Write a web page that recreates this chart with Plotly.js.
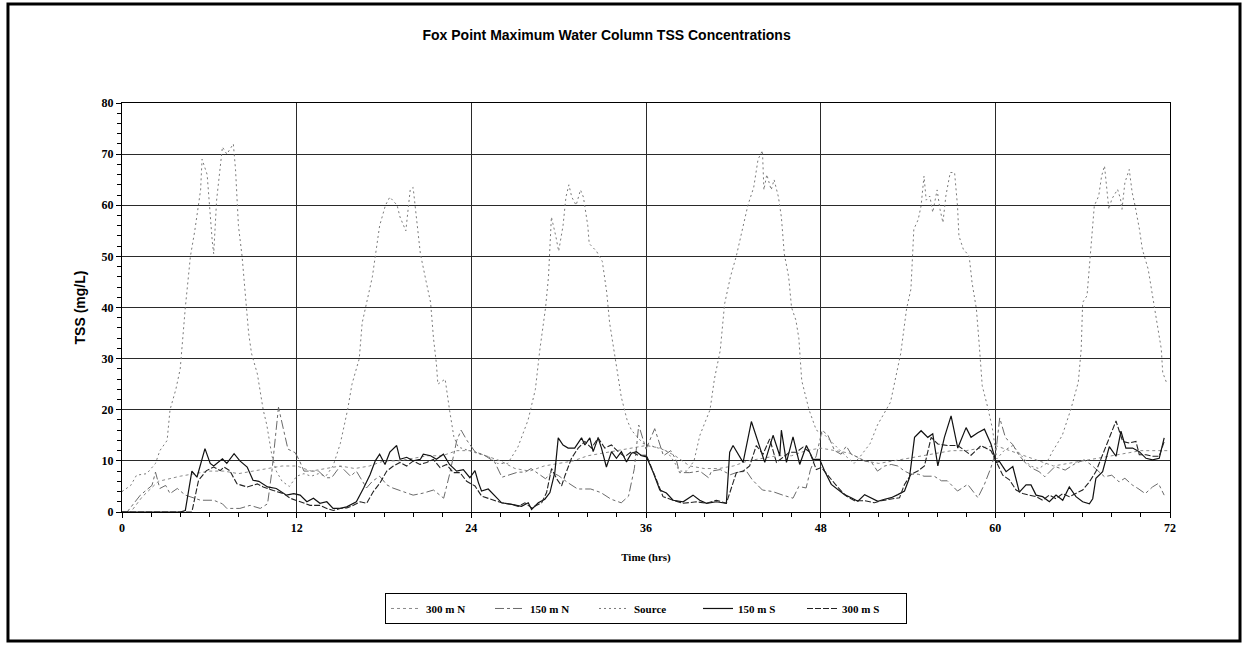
<!DOCTYPE html>
<html>
<head>
<meta charset="utf-8">
<script src="https://cdn.plot.ly/plotly-3.0.1.min.js"></script>
<style>html,body{margin:0;padding:0;background:#fff;}#chart{width:1243px;height:648px;}</style>
</head>
<body>
<div id="chart"></div>
<script>
// ---- Data (hours, mg/L) ----
const seriesNames = ["300 m N", "150 m N", "Source", "150 m S", "300 m S"];
const xTickVals = [0, 12, 24, 36, 48, 60, 72];
const yTickVals = [0, 10, 20, 30, 40, 50, 60, 70, 80];

const tSource = [0,0.6,1.0,1.7,2.3,2.6,3.1,3.3,3.7,4.0,4.35,4.7,5.0,5.4,5.5,5.85,6.2,6.3,6.5,6.75,6.9,7.2,7.65,7.8,7.9,8.0,8.25,8.5,8.7,8.9,9.3,9.7,9.95,10.3,10.6,11.0,11.5,12.0,12.5,13.0,13.5,14.0,14.5,15.0,15.5,15.8,16.3,16.5,16.8,17.2,17.5,17.7,18.1,18.4,18.9,19.1,19.5,19.8,20.0,20.3,20.5,20.9,21.2,21.4,21.6,21.7,22.2,22.5,22.8,23.1,23.8,24.5,25.2,25.8,26.5,27.2,27.9,28.4,28.7,29.1,29.3,29.4,29.5,29.8,30.0,30.3,30.5,30.7,30.9,31.2,31.5,31.7,32.0,32.1,32.6,33.0,33.3,33.5,33.8,34.0,34.3,34.7,35.0,35.4,35.8,36.3,36.8,37.4,37.9,38.3,38.8,39.3,39.7,40.4,40.7,41.1,41.4,41.8,42.2,42.6,43.0,43.4,43.7,44.0,44.1,44.3,44.6,44.8,45.1,45.3,45.5,45.8,46.0,46.3,46.5,46.7,47.0,47.2,47.7,48.3,49.0,49.7,50.3,50.7,51.4,51.9,52.8,53.2,53.5,53.9,54.2,54.3,54.4,54.7,54.9,55.1,55.25,55.5,55.7,56.0,56.2,56.4,56.6,56.9,57.2,57.4,57.5,57.8,58.2,58.4,58.7,58.9,59.1,59.5,59.8,60.1,60.6,61.2,61.8,62.4,63.0,63.5,63.9,64.6,65.2,65.7,65.9,66.0,66.3,66.5,66.6,66.8,67.1,67.3,67.5,67.8,68.0,68.4,68.6,68.7,68.9,69.2,69.4,69.6,69.9,70.1,70.5,70.8,71.1,71.4,71.5,71.8];
const vSource = [4,5.2,7.2,7.5,9.5,12,14,20,24,28,40,50,55,63,69,66,53,50.5,61,67,71.4,70,72,67,61,56,50,42,35,31,27,20,17,11,8,6,5,7,7.5,7,7.5,7,9,13.4,20,25,30,37,41,46,52,56,60,61.6,60,57.7,55,63,63.5,56,50.5,45,41,34,29,25,26,20,14.7,12.7,12,11.4,10.8,9.5,9.5,12.7,18,24,31.6,40,46,53,57.7,54,51,56,61.6,64,61.6,60,63,61.6,56,52.5,51,49,43,37,32,28,22.5,18,16,14.7,13.4,13,12.5,12,10,8,8,10,15,20,26,31.6,40.7,46,50,55,60,63.5,69,70.7,63,66,63,65,61.6,57.7,50.5,46,40,37.5,34,25.7,22.5,20,16,15,13,11,9.5,10.8,13.4,17,21.5,27,31,39.7,43.6,49.4,55.3,57.2,59.9,65.7,61,61.8,58.6,63,59.2,56.6,61.8,66.4,66.4,59.9,54,51.4,50.1,44.9,39.7,32.5,24.7,20.2,16.3,10.4,12,13,11,9,8.5,9.5,11.7,15,20.2,25.4,31.9,41,42.3,48.8,52,59.9,61.8,65.7,67.7,59.2,61.2,63.1,61.2,59.2,64.4,67,62.5,59.9,55.3,51.4,47.5,42.3,37.1,31.9,27.3,25];

const t150S = [0,4.0,4.35,4.8,5.15,5.7,6.06,6.3,6.9,7.2,7.7,8.1,8.6,9.0,9.4,10.0,10.6,11.3,11.8,12.24,12.7,13.15,13.6,14.07,14.5,14.98,15.44,16.1,16.6,17.04,17.4,17.7,18.07,18.4,18.87,19.1,19.56,20.0,20.5,20.7,21.2,21.6,22.08,22.5,22.99,23.45,23.9,24.25,24.48,24.7,25.16,25.62,26.08,26.77,27.45,27.91,28.14,28.6,29.05,29.4,29.74,29.97,30.3,30.65,31.1,31.57,31.8,32.14,32.37,32.71,32.94,33.28,33.63,33.97,34.31,34.66,35.0,35.34,35.7,36.03,36.5,36.95,37.4,37.86,38.55,39.23,39.69,40.15,40.84,41.52,41.75,41.98,42.67,43.24,43.81,44.16,44.73,45.19,45.3,45.65,46.1,46.56,47.02,47.47,47.93,48.27,48.73,49.19,49.64,50.1,50.56,51.02,51.48,51.93,52.39,52.85,53.3,53.76,54.1,54.45,54.9,55.36,55.7,56.05,56.5,56.96,57.42,57.99,58.33,58.79,59.25,59.7,60.05,60.28,60.74,61.2,61.65,62.11,62.45,62.8,63.25,63.71,64.17,64.63,65.08,65.54,66.0,66.46,66.69,66.91,67.37,67.83,68.29,68.63,68.97,69.43,69.89,70.35,70.8,71.26,71.6];
const v150S = [0,0,0.3,8,6.8,12.4,9.5,9,10.4,9.5,11.4,10,8.8,6.2,6,4.9,4.6,3.3,3.6,3.3,2,2.7,1.7,2,0.7,0.7,1,2,4.7,7.3,10,11.3,9.3,11.7,13,10.3,10.7,10,10.3,11.3,11,10.3,11.3,9.3,8,8.3,6.7,8.1,5.8,4.1,4.5,3.1,1.8,1.5,1.1,1.8,0.5,1.8,2.5,3.8,7.8,14.5,13.1,12.5,12.5,14.5,13.1,14.5,11.8,14.5,12.5,8.8,11.8,10.5,11.8,9.8,11.5,11.8,11,10.8,7.7,4.3,3.7,2.3,2,3.3,2.3,1.7,2,1.7,11.7,13,9.7,17.7,13,9.7,15,11,16,9.7,14.7,9.3,13,10.3,10.3,8,5.4,4.4,3.4,2.8,2.1,3.4,2.8,2.1,2.5,2.8,3.4,4.1,6.7,14.6,15.9,14.6,15.3,9,14.6,18.8,12.5,16.5,14.6,15.5,16.2,13.3,9.7,9.9,7.9,8.9,3.9,5.3,5.3,3.3,3,2,3.3,2.3,4.9,3,2,1.6,2.6,6.6,7.9,12.8,10.9,15.8,12.5,12.5,11.8,10.5,10.2,10.5,14.5];

const t300S = [0,4.8,5.26,5.8,6.3,6.75,7.0,7.4,7.9,8.6,9.3,9.7,10.4,11.1,11.55,12.24,12.92,13.61,14.07,14.52,14.98,15.44,15.9,16.36,16.81,17.27,17.73,18.19,18.64,19.1,19.56,20.02,20.47,20.93,21.39,21.85,22.3,22.76,23.22,23.68,24.25,24.71,25.4,26.08,26.77,27.22,27.68,28.14,28.83,29.17,29.51,29.86,30.2,30.43,30.88,31.34,31.8,32.26,32.71,33.17,33.63,34.09,34.54,35.0,35.46,36.03,36.72,37.17,37.86,38.55,39.46,40.15,40.84,41.52,42.21,42.67,43.12,43.58,44.04,44.5,44.96,45.42,45.87,46.33,46.79,47.25,47.7,48.05,48.62,49.19,49.76,50.33,51.02,51.7,52.16,52.85,53.42,53.76,54.22,54.67,55.13,55.59,56.05,56.73,57.42,58.33,59.02,59.7,60.05,60.51,60.97,61.43,61.88,62.34,62.8,63.25,63.71,64.17,64.63,65.08,65.54,66.0,66.46,66.91,67.37,67.83,68.29,68.52,68.75,69.2,69.66,69.89,70.35,70.8,71.26,71.6];
const v300S = [0,0,6.2,8.1,8.8,8.1,8.8,8.1,5.5,4.9,5.5,4.9,4.2,3.6,2.7,2,1.3,1.3,0.7,0.3,0.7,0.8,1.3,2,1.7,4,5.7,8,9,9.7,9,10,9.3,9.7,10.3,8.7,9.3,7.7,7.7,6,5.1,3.1,2.5,1.8,1.5,1.1,1.8,0.8,1.8,3.8,8.5,6.5,5.1,7.1,10.5,12.5,13.8,12.5,14.5,12.5,13.1,11.8,10.8,11.8,11.1,11.1,6.3,3,2.3,1.7,2,1.7,2.3,1.7,7.7,8,9,13,11.3,14.3,9.7,10.7,11.7,11.7,12.7,11.7,8.3,8.7,6.7,4.8,3.1,2.2,2.2,1.8,2.2,2.5,2.8,5.4,7.4,8,9,14.6,13.3,13,13,11.1,13,12,10,7.2,6.3,4.3,3.6,3.3,3,2.3,3.3,2.6,3.6,3,3.6,4.3,5.9,7.9,11.2,14.5,17.8,15.8,13.8,13.5,13.8,11.2,11.2,10.9,10.9,13.8];

const t150N = [0,0.35,1.26,2.06,2.3,2.6,3.0,3.3,3.8,4.35,5.4,6.3,6.9,7.2,8.1,8.8,9.5,10.0,10.3,10.75,11.4,11.9,12.2,12.5,13.0,13.5,14.0,14.4,15.0,15.7,16.1,16.8,17.2,17.7,18.2,18.6,19.3,20.0,20.7,21.4,22.1,22.5,23.0,23.3,23.7,24.25,24.9,25.6,26.1,26.8,27.2,27.7,28.1,28.6,29.1,29.5,30.0,30.6,31.3,32.2,32.9,33.6,34.3,34.8,35.2,35.5,36.0,36.6,37.2,37.7,38.1,38.3,39.0,39.7,40.3,40.5,41.1,41.8,42.2,42.9,43.3,44.0,44.7,45.4,46.1,46.5,47.0,47.3,47.7,48.1,48.5,48.96,49.4,49.76,50.1,50.56,51.0,51.5,51.9,52.4,52.85,53.3,53.76,54.2,54.7,55.1,55.8,56.3,56.7,57.4,58.1,58.8,59.25,59.7,60.05,60.3,60.7,61.2,61.6,62.1,62.5,63.0,63.4,64.1,64.8,65.5,66.1,66.6,67.1,67.5,68.0,68.5,68.9,69.4,69.8,70.3,70.8,71.2,71.6];
const v150N = [0,0,3.3,5.2,7.8,4.6,5.2,3.6,4.6,3.3,2.3,2.3,1.6,0.7,0.7,1.3,0.7,1.6,8,20.5,12.3,11.6,10,8,8,8,6.7,6.7,9,7,8,4.7,6,7,5.3,4.7,4,3.3,3.7,4.3,2.7,7.3,14,16,14,11.8,11.1,9.8,6.8,7.5,7.8,7.8,8.5,7.5,6.5,7.8,7.1,5.8,4.5,4.5,3.8,2.5,1.8,3.1,8.5,17,12.3,16.3,11,12,10,7.7,7.7,8,6.7,8,8.3,7.3,7.7,8,6.3,4.3,4,3.3,2.7,5,4.7,8.3,11,16,15,12,11.3,12.9,11.3,10.7,10,9.7,8,9,9.3,9,8,7.4,7.4,7,7,6.1,6.1,4.1,5.4,2.8,5.4,8.7,12,18.4,14.5,13.2,11.2,9.5,8.6,7.9,6.9,8.9,8.2,9.5,10.2,9.2,7.9,6.9,7.2,5.9,6.6,5.3,4.6,3.6,4.9,5.6,3.3];

const t300N = [0,0.6,1.4,2.5,4,5,6,7,8,9,10,11,12,13,14,15,16,17,18,19,20,21,22,23,24,25,26,27,28,29,30,31,32,33,34,35,36,37,38,39,40,41,42,43,44,45,46,47,48,49,50,51,52,53,54,55,56,57,58,59,60,61,62,63,64,65,66,67,68,69,70,71,72];
const v300N = [0,0,3,6,7,7.5,8,8,7.5,8,8.5,9,9,8,8.5,9,8.5,9,10,10,10.5,11,11,12,12,11,10,8.5,8,9,9.5,10,11,11.5,12,12.5,13,12.5,11,9,8.5,8.5,9,10,10.5,11,11,12,12.5,12,11.5,10,9.5,10,10.5,11,11.5,12,12,12.5,13,12,11,10,9,9.5,10,10.5,11,11.5,12,12,12];

// ---- Chart ----
const serif = "'Liberation Serif', 'Times New Roman', serif";
const sans = "'Liberation Sans', Arial, sans-serif";

const traces = [
  {x: t300N, y: v300N, name: seriesNames[0], mode: "lines",
   line: {color: "#8a8a8a", width: 1, dash: "dot"}},
  {x: t150N, y: v150N, name: seriesNames[1], mode: "lines",
   line: {color: "#6a6a6a", width: 1, dash: "dashdot"}},
  {x: tSource, y: vSource, name: seriesNames[2], mode: "lines",
   line: {color: "#7a7a7a", width: 1, dash: "2px,3px"}},
  {x: t150S, y: v150S, name: seriesNames[3], mode: "lines",
   line: {color: "#111", width: 1.2}},
  {x: t300S, y: v300S, name: seriesNames[4], mode: "lines",
   line: {color: "#222", width: 1.1, dash: "6px,2px"}}
];

const layout = {
  width: 1243, height: 648,
  paper_bgcolor: "#fff", plot_bgcolor: "#fff",
  margin: {l: 122, r: 73, t: 103, b: 136},
  showlegend: true,
  title: {
    text: "Fox Point Maximum Water Column TSS Concentrations",
    font: {family: sans, size: 14, color: "#000", weight: "bold"},
    x: 0.488, xref: "container", xanchor: "center",
    y: 0.946, yref: "container", yanchor: "middle"
  },
  xaxis: {
    range: [0, 72], tickvals: xTickVals, ticktext: xTickVals.map(String),
    showgrid: true, gridcolor: "#2a2a2a", gridwidth: 1,
    zeroline: false, showline: true, mirror: true, linecolor: "#000", linewidth: 1,
    ticks: "outside", ticklen: 5, tickcolor: "#000",
    minor: {dtick: 2, ticks: "outside", ticklen: 4, tickcolor: "#000", showgrid: false},
    tickfont: {family: serif, size: 12, color: "#000", weight: "bold"},
    title: {text: "Time (hrs)", standoff: 18,
            font: {family: serif, size: 11, color: "#000", weight: "bold"}},
    fixedrange: true
  },
  yaxis: {
    range: [0, 80], tickvals: yTickVals, ticktext: yTickVals.map(String),
    showgrid: true, gridcolor: "#2a2a2a", gridwidth: 1,
    zeroline: false, showline: true, mirror: true, linecolor: "#000", linewidth: 1,
    ticks: "outside", ticklen: 5, tickcolor: "#000",
    minor: {dtick: 2, ticks: "outside", ticklen: 4, tickcolor: "#000", showgrid: false},
    tickfont: {family: serif, size: 12, color: "#000", weight: "bold"},
    title: {text: "TSS (mg/L)", standoff: 12,
            font: {family: sans, size: 14, color: "#000", weight: "bold"}},
    fixedrange: true
  },
  legend: {
    orientation: "h", x: 0.5, xanchor: "center", y: -0.198, yanchor: "top",
    bordercolor: "#000", borderwidth: 1, bgcolor: "#fff",
    font: {family: serif, size: 11, color: "#000", weight: "bold"},
    entrywidth: 59, entrywidthmode: "pixels", itemwidth: 30,
    traceorder: "normal"
  },
  shapes: [
    {type: "rect", xref: "paper", yref: "paper",
     x0: -0.1088, x1: 1.0668, y0: -0.3154, y1: 1.242,
     line: {color: "#000", width: 3}, fillcolor: "rgba(0,0,0,0)", layer: "below"}
  ]
};

Plotly.newPlot("chart", traces, layout, {displayModeBar: false, staticPlot: true});
</script>
</body>
</html>
